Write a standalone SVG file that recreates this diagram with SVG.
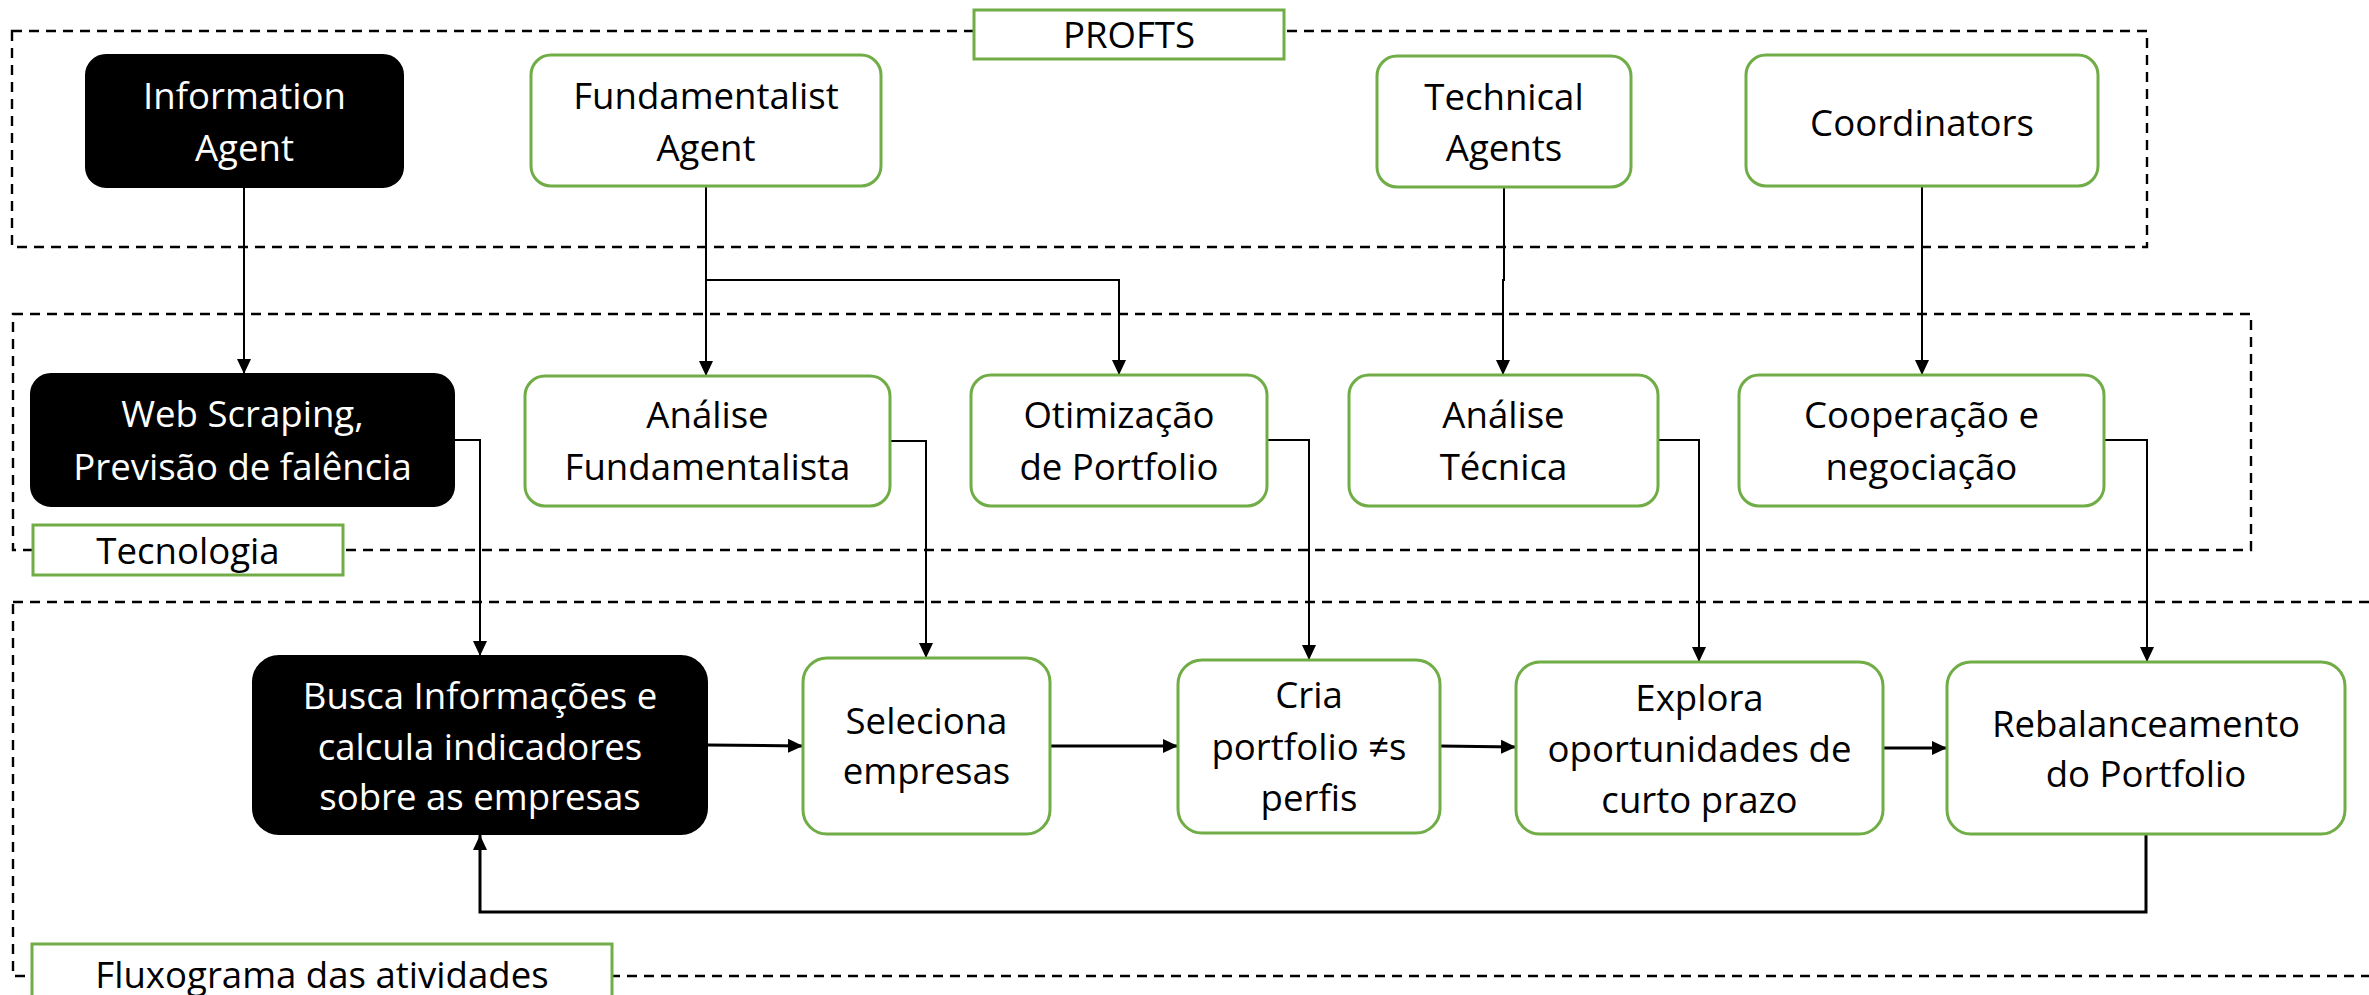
<svg xmlns="http://www.w3.org/2000/svg" width="2369" height="995" viewBox="0 0 2369 995">
<style>
.bg{fill:#fff}
.frame{fill:none;stroke:#000;stroke-width:2.4;stroke-dasharray:10 7}
.lbl{fill:#fff;stroke:#70AD47;stroke-width:3}
.g{fill:#fff;stroke:#70AD47;stroke-width:3}
.k{fill:#000;stroke:#000;stroke-width:2}
text{font-family:"Open Sans","Noto Sans","DejaVu Sans",sans-serif;font-size:36.6px;text-anchor:middle}
.w{fill:#fff}
.t{fill:#000}
.c{fill:none;stroke:#000;stroke-width:2}
.c3{fill:none;stroke:#000;stroke-width:3}
</style>
<defs>
<marker id="ah" markerUnits="userSpaceOnUse" markerWidth="16" markerHeight="16" viewBox="0 0 16 16" refX="15" refY="8" orient="auto">
<path d="M0,1 L15,8 L0,15 Z" fill="#000"/>
</marker>
</defs>
<rect class="bg" x="0" y="0" width="2369" height="995"/>

<g id="frames">
<rect class="frame" x="12" y="31" width="2135" height="216"/>
<rect class="frame" x="13" y="314" width="2238" height="236"/>
<rect class="frame" x="13" y="602" width="2420" height="374"/>
</g>

<g id="label-profts">
<rect class="lbl" x="974" y="10" width="310" height="49"/>
<text class="t" x="1129" y="48">PROFTS</text>
</g>
<g id="label-tecnologia">
<rect class="lbl" x="33" y="525" width="310" height="50"/>
<text class="t" x="188" y="564">Tecnologia</text>
</g>
<g id="label-fluxograma">
<rect class="lbl" x="32" y="944" width="580" height="70"/>
<text class="t" x="322" y="988">Fluxograma das atividades</text>
</g>

<g id="connectors">
<path class="c" d="M244,187 V374" marker-end="url(#ah)"/>
<path class="c" d="M706,186 V376" marker-end="url(#ah)"/>
<path class="c" d="M706,280 H1119 V375" marker-end="url(#ah)"/>
<path class="c" d="M1504,187 V280 H1503 V375" marker-end="url(#ah)"/>
<path class="c" d="M1922,186 V375" marker-end="url(#ah)"/>
<path class="c" d="M454,440 H480 V656" marker-end="url(#ah)"/>
<path class="c" d="M890,441 H926 V658" marker-end="url(#ah)"/>
<path class="c" d="M1267,440 H1309 V660" marker-end="url(#ah)"/>
<path class="c" d="M1658,440 H1699 V662" marker-end="url(#ah)"/>
<path class="c" d="M2104,440 H2147 V662" marker-end="url(#ah)"/>
<path class="c3" d="M707,745 L803,746" marker-end="url(#ah)"/>
<path class="c3" d="M1050,746 H1178" marker-end="url(#ah)"/>
<path class="c3" d="M1440,746 L1516,747" marker-end="url(#ah)"/>
<path class="c3" d="M1883,748 H1947" marker-end="url(#ah)"/>
<path class="c3" d="M2146,834 V912 H480 V835" marker-end="url(#ah)"/>
</g>

<g id="information-agent">
<rect class="k" x="86" y="55" width="317" height="132" rx="20"/>
<text class="w" x="244.5" y="109">Information</text>
<text class="w" x="244.5" y="161">Agent</text>
</g>
<g id="fundamentalist-agent">
<rect class="g" x="531" y="55" width="350" height="131" rx="20"/>
<text class="t" x="706" y="109">Fundamentalist</text>
<text class="t" x="706" y="161">Agent</text>
</g>
<g id="technical-agents">
<rect class="g" x="1377" y="56" width="254" height="131" rx="20"/>
<text class="t" x="1504" y="110">Technical</text>
<text class="t" x="1504" y="161">Agents</text>
</g>
<g id="coordinators">
<rect class="g" x="1746" y="55" width="352" height="131" rx="20"/>
<text class="t" x="1922" y="136">Coordinators</text>
</g>

<g id="web-scraping">
<rect class="k" x="31" y="374" width="423" height="132" rx="20"/>
<text class="w" x="242.5" y="427">Web Scraping,</text>
<text class="w" x="242.5" y="480">Previsão de falência</text>
</g>
<g id="analise-fundamentalista">
<rect class="g" x="525" y="376" width="365" height="130" rx="20"/>
<text class="t" x="707.5" y="428">Análise</text>
<text class="t" x="707.5" y="480">Fundamentalista</text>
</g>
<g id="otimizacao">
<rect class="g" x="971" y="375" width="296" height="131" rx="20"/>
<text class="t" x="1119" y="428">Otimização</text>
<text class="t" x="1119" y="480">de Portfolio</text>
</g>
<g id="analise-tecnica">
<rect class="g" x="1349" y="375" width="309" height="131" rx="20"/>
<text class="t" x="1503.5" y="428">Análise</text>
<text class="t" x="1503.5" y="480">Técnica</text>
</g>
<g id="cooperacao">
<rect class="g" x="1739" y="375" width="365" height="131" rx="20"/>
<text class="t" x="1921.5" y="428">Cooperação e</text>
<text class="t" x="1921.5" y="480">negociação</text>
</g>

<g id="busca">
<rect class="k" x="253" y="656" width="454" height="178" rx="26"/>
<text class="w" x="480" y="709">Busca Informações e</text>
<text class="w" x="480" y="760">calcula indicadores</text>
<text class="w" x="480" y="810">sobre as empresas</text>
</g>
<g id="seleciona">
<rect class="g" x="803" y="658" width="247" height="176" rx="24"/>
<text class="t" x="926.5" y="734">Seleciona</text>
<text class="t" x="926.5" y="784">empresas</text>
</g>
<g id="cria">
<rect class="g" x="1178" y="660" width="262" height="173" rx="24"/>
<text class="t" x="1309" y="708">Cria</text>
<text class="t" x="1309" y="760">portfolio ≠s</text>
<text class="t" x="1309" y="811">perfis</text>
</g>
<g id="explora">
<rect class="g" x="1516" y="662" width="367" height="172" rx="24"/>
<text class="t" x="1699.5" y="711">Explora</text>
<text class="t" x="1699.5" y="762">oportunidades de</text>
<text class="t" x="1699.5" y="813">curto prazo</text>
</g>
<g id="rebalanceamento">
<rect class="g" x="1947" y="662" width="398" height="172" rx="24"/>
<text class="t" x="2146" y="737">Rebalanceamento</text>
<text class="t" x="2146" y="787">do Portfolio</text>
</g>
</svg>
